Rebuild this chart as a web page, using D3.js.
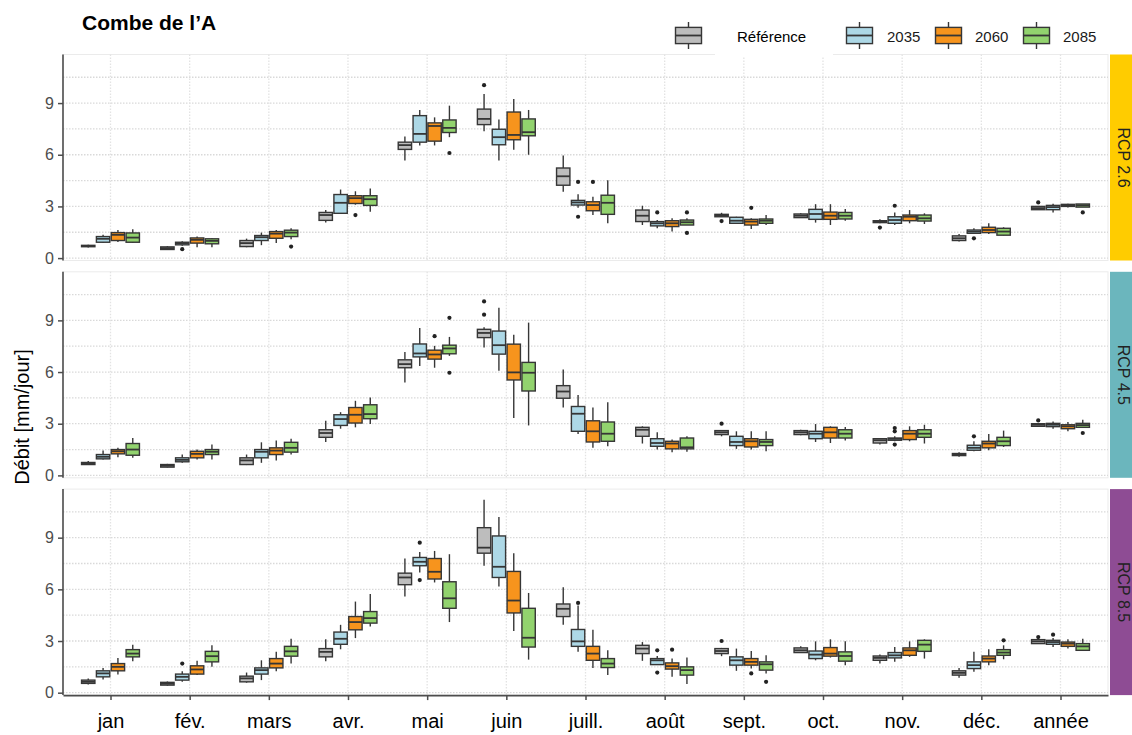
<!DOCTYPE html>
<html>
<head>
<meta charset="utf-8">
<script src="https://cdn.jsdelivr.net/npm/d3@7"></script>
<style>
  body { margin: 0; background: #fff; }
  svg { font-family: "Liberation Sans", Arial, sans-serif; }
</style>
</head>
<body>
<script>
// categories and series
var categories = ["jan", "fév.", "mars", "avr.", "mai", "juin", "juill.", "août", "sept.", "oct.", "nov.", "déc.", "année"];
var seriesNames = ["Référence", "2035", "2060", "2085"];
var seriesColors = ["#BDBDBD", "#ADD8E6", "#F7941D", "#92D36E"];
var scenarioNames = ["RCP 2.6", "RCP 4.5", "RCP 8.5"];
var stripColors = ["#FFCC00", "#6BB6BD", "#8E4C94"];
var yTicks = [0, 3, 6, 9];
var yMinor = [1.5, 4.5, 7.5, 10.5];

// boxes: [lower whisker, q1, median, q3, upper whisker] per category
var rcp26_ref = [[0.62,0.66,0.70,0.74,0.78],[0.48,0.50,0.58,0.65,0.70],[0.63,0.67,0.87,1.02,1.13],[2.06,2.19,2.50,2.65,2.79],[5.67,6.31,6.56,6.73,7.06],[7.37,7.75,8.08,8.65,9.52],[3.85,4.23,4.75,5.23,5.96],[1.92,2.12,2.46,2.79,3.04],[2.40,2.40,2.48,2.54,2.63],[2.35,2.35,2.46,2.56,2.60],[2.02,2.06,2.12,2.17,2.25],[0.96,1.02,1.15,1.29,1.40],[2.81,2.81,2.90,3.00,3.00]];
var rcp26_2035 = [[0.87,0.92,1.12,1.25,1.35],[0.71,0.77,0.87,0.92,0.98],[0.75,1.02,1.21,1.31,1.48],[2.60,2.60,3.21,3.69,3.98],[6.54,6.73,7.21,8.27,8.60],[5.67,6.58,7.02,7.48,8.04],[2.92,3.08,3.23,3.35,3.71],[1.73,1.87,2.02,2.12,2.21],[1.98,2.02,2.17,2.37,2.40],[2.06,2.25,2.56,2.83,3.13],[1.92,2.02,2.21,2.40,2.65],[1.44,1.44,1.54,1.63,1.73],[2.65,2.81,2.96,3.06,3.15]];
var rcp26_2060 = [[0.94,1.02,1.35,1.48,1.63],[0.63,0.87,1.06,1.17,1.25],[0.87,1.15,1.42,1.54,1.63],[3.10,3.17,3.48,3.62,3.88],[6.54,6.79,7.67,7.85,8.17],[6.29,6.87,7.15,8.48,9.23],[2.50,2.75,3.08,3.27,3.56],[1.54,1.83,2.02,2.17,2.31],[1.69,1.92,2.12,2.25,2.31],[1.92,2.25,2.46,2.67,3.13],[2.02,2.17,2.40,2.50,2.79],[1.40,1.48,1.63,1.79,2.02],[2.94,3.00,3.06,3.12,3.15]];
var rcp26_2085 = [[0.87,0.92,1.19,1.46,1.67],[0.63,0.83,1.00,1.12,1.17],[1.10,1.25,1.48,1.62,1.73],[2.69,3.06,3.42,3.62,4.04],[7.02,7.29,7.56,8.02,8.85],[6.00,7.10,7.31,8.08,8.60],[2.02,2.54,3.21,3.65,4.52],[1.92,1.92,2.08,2.21,2.31],[1.92,2.02,2.17,2.27,2.50],[2.17,2.27,2.46,2.65,2.85],[1.98,2.15,2.31,2.50,2.60],[1.31,1.33,1.54,1.73,1.79],[2.96,2.96,3.06,3.14,3.14]];
var rcp26_outliers = [["juin","Référence",10.04],["sept.","Référence",2.15],["nov.","Référence",1.77],["année","Référence",3.23],
  ["fév.","2035",0.52],["juill.","2035",4.42],["juill.","2035",2.40],["août","2035",2.65],["nov.","2035",3.04],["déc.","2035",1.15],
  ["avr.","2060",2.50],["juill.","2060",4.42],["sept.","2060",2.92],
  ["mars","2085",0.67],["mai","2085",6.10],["août","2085",2.65],["août","2085",1.46],["année","2085",2.65]];

var rcp45_ref = [[0.60,0.63,0.69,0.75,0.83],[0.46,0.48,0.56,0.63,0.67],[0.60,0.63,0.87,1.02,1.21],[1.94,2.21,2.46,2.65,3.17],[5.40,6.25,6.46,6.71,7.17],[7.42,8.00,8.27,8.48,8.60],[3.94,4.48,4.87,5.21,6.15],[1.85,2.27,2.65,2.79,2.85],[2.27,2.37,2.50,2.60,2.60],[2.33,2.37,2.50,2.60,2.65],[1.79,1.88,2.04,2.13,2.17],[1.08,1.15,1.21,1.27,1.35],[2.85,2.85,2.94,3.00,3.00]];
var rcp45_2035 = [[0.92,0.96,1.08,1.21,1.44],[0.73,0.79,0.90,1.02,1.21],[0.73,1.02,1.37,1.50,1.92],[2.71,2.90,3.27,3.52,3.67],[6.35,6.88,7.08,7.63,8.56],[6.08,7.04,7.56,8.38,9.73],[2.40,2.56,3.58,4.00,4.67],[1.50,1.69,1.88,2.13,2.50],[1.54,1.73,1.94,2.27,2.56],[1.94,2.13,2.42,2.56,2.98],[1.98,2.04,2.12,2.17,2.27],[1.40,1.46,1.60,1.75,1.98],[2.71,2.83,2.94,3.02,3.13]];
var rcp45_2060 = [[1.06,1.25,1.40,1.50,1.60],[0.92,1.02,1.25,1.40,1.50],[0.87,1.21,1.44,1.60,2.02],[2.79,3.04,3.52,3.94,4.33],[6.25,6.75,7.02,7.27,7.52],[3.33,5.54,5.98,7.62,8.17],[1.60,1.94,2.56,3.17,3.94],[1.35,1.54,1.85,1.98,2.08],[1.50,1.65,1.98,2.13,2.56],[1.88,2.17,2.50,2.79,2.85],[1.98,2.08,2.42,2.60,2.85],[1.46,1.60,1.85,1.98,2.40],[2.56,2.71,2.85,2.94,3.10]];
var rcp45_2085 = [[1.02,1.17,1.50,1.85,2.17],[0.92,1.21,1.37,1.50,1.79],[1.21,1.35,1.60,1.92,2.13],[2.98,3.29,3.56,4.10,4.52],[6.94,7.06,7.37,7.56,8.04],[2.90,4.90,5.96,6.56,8.87],[1.69,1.98,2.42,3.10,4.25],[1.37,1.54,1.63,2.17,2.27],[1.40,1.73,1.94,2.08,2.56],[2.02,2.17,2.42,2.65,2.81],[1.85,2.21,2.42,2.65,2.94],[1.65,1.73,1.98,2.21,2.60],[2.79,2.79,2.92,3.02,3.23]];
var rcp45_outliers = [["juin","Référence",10.10],["juin","Référence",9.33],["sept.","Référence",3.00],["année","Référence",3.19],
  ["nov.","2035",2.75],["nov.","2035",2.56],["nov.","2035",1.79],["déc.","2035",2.27],
  ["mai","2060",8.08],
  ["mai","2085",9.15],["mai","2085",5.96],["année","2085",2.46]];

var rcp85_ref = [[0.48,0.54,0.63,0.73,0.83],[0.40,0.44,0.52,0.60,0.65],[0.58,0.63,0.83,0.96,1.17],[1.83,2.08,2.37,2.56,3.10],[5.58,6.27,6.69,6.94,7.79],[7.37,8.10,8.42,9.58,11.20],[3.94,4.42,4.87,5.15,6.12],[1.85,2.27,2.56,2.75,2.94],[2.12,2.27,2.42,2.56,2.60],[2.33,2.33,2.46,2.60,2.69],[1.69,1.88,2.02,2.13,2.21],[0.87,1.02,1.15,1.27,1.44],[2.85,2.85,2.98,3.08,3.13]];
var rcp85_2035 = [[0.77,0.92,1.12,1.27,1.44],[0.63,0.73,0.92,1.08,1.25],[0.73,1.08,1.31,1.44,1.88],[2.52,2.81,3.13,3.52,3.94],[6.98,7.37,7.60,7.85,8.17],[6.17,6.69,7.31,9.10,10.20],[2.37,2.69,2.98,3.67,5.06],[1.63,1.63,1.88,1.98,2.13],[1.27,1.60,1.88,2.08,2.56],[1.88,1.98,2.21,2.42,2.98],[1.79,2.02,2.17,2.33,2.65],[1.21,1.40,1.60,1.79,2.37],[2.65,2.81,2.94,3.04,3.17]];
var rcp85_2060 = [[1.06,1.27,1.50,1.69,2.02],[1.02,1.08,1.35,1.56,1.85],[1.25,1.44,1.69,1.98,2.37],[3.17,3.65,4.10,4.42,5.29],[6.40,6.60,7.02,7.79,8.23],[3.58,4.63,5.35,7.04,8.10],[1.44,1.88,2.27,2.69,3.65],[0.92,1.37,1.54,1.73,1.98],[1.40,1.60,1.79,1.98,2.42],[2.04,2.12,2.27,2.62,3.10],[2.08,2.17,2.46,2.60,2.98],[1.60,1.79,1.98,2.13,2.52],[2.56,2.69,2.85,2.94,3.10]];
var rcp85_2085 = [[1.83,2.08,2.27,2.50,2.79],[1.50,1.79,2.12,2.40,2.75],[1.69,2.12,2.40,2.69,3.13],[3.85,4.04,4.33,4.71,5.73],[4.10,4.90,5.48,6.44,8.04],[1.92,2.65,3.19,4.90,5.79],[1.02,1.46,1.69,1.98,2.46],[0.50,1.02,1.31,1.50,2.04],[1.12,1.31,1.65,1.79,2.17],[1.60,1.83,2.13,2.37,2.98],[1.98,2.40,2.79,3.04,3.10],[1.94,2.17,2.33,2.50,2.75],[2.42,2.46,2.69,2.85,3.13]];
var rcp85_outliers = [["sept.","Référence",3.00],["année","Référence",3.23],
  ["fév.","2035",1.69],["mai","2035",8.71],["mai","2035",6.54],["juill.","2035",5.21],["août","2035",2.46],["août","2035",1.17],["année","2035",3.37],
  ["août","2060",2.50],["sept.","2060",1.12],
  ["sept.","2085",0.63],["déc.","2085",3.04]];

var panels = [
  {name: scenarioNames[0], strip: stripColors[0], boxes: [rcp26_ref, rcp26_2035, rcp26_2060, rcp26_2085], outliers: rcp26_outliers},
  {name: scenarioNames[1], strip: stripColors[1], boxes: [rcp45_ref, rcp45_2035, rcp45_2060, rcp45_2085], outliers: rcp45_outliers},
  {name: scenarioNames[2], strip: stripColors[2], boxes: [rcp85_ref, rcp85_2035, rcp85_2060, rcp85_2085], outliers: rcp85_outliers}
];

var W = 1132, H = 735;
var left = 63, right = 1108, top0 = 54.5, panelH = 206, panelGap = 11.3;
var outline = "#363636";

var svg = d3.select("body").append("svg").attr("width", W).attr("height", H);

var x = d3.scalePoint().domain(categories).range([left, right]).padding(0.6);
var step = x.step();
var dodge = d3.scaleBand().domain(seriesNames)
    .range([-0.375 * step, 0.375 * step])
    .paddingInner(0.1).paddingOuter(0.05);
var color = d3.scaleOrdinal().domain(seriesNames).range(seriesColors);

// draw a boxplot glyph
function drawBox(g, cx, bw, s, y, fill) {
  g.append("line").attr("x1", cx).attr("x2", cx).attr("y1", y(s[4])).attr("y2", y(s[3]))
    .attr("stroke", outline).attr("stroke-width", 1.4);
  g.append("line").attr("x1", cx).attr("x2", cx).attr("y1", y(s[1])).attr("y2", y(s[0]))
    .attr("stroke", outline).attr("stroke-width", 1.4);
  g.append("rect").attr("x", cx - bw / 2).attr("width", bw)
    .attr("y", y(s[3])).attr("height", Math.max(1, y(s[1]) - y(s[3])))
    .attr("fill", fill).attr("stroke", outline).attr("stroke-width", 1.4);
  g.append("line").attr("x1", cx - bw / 2).attr("x2", cx + bw / 2).attr("y1", y(s[2])).attr("y2", y(s[2]))
    .attr("stroke", outline).attr("stroke-width", 1.8);
}

panels.forEach(function(p, i) {
  var top = top0 + i * (panelH + panelGap);
  var y = d3.scaleLinear().domain([-0.14, 11.82]).range([top + panelH, top]);
  var g = svg.append("g").attr("class", "panel");

  g.append("rect").attr("x", left).attr("y", top).attr("width", right - left).attr("height", panelH)
    .attr("fill", "#fff").attr("stroke", "#EBEBEB").attr("stroke-width", 1);

  // grid
  g.selectAll(".hgrid").data(yTicks.concat(yMinor)).enter().append("line")
    .attr("x1", left).attr("x2", right)
    .attr("y1", function(d) { return y(d); }).attr("y2", function(d) { return y(d); })
    .attr("stroke", "#D9D9D9").attr("stroke-width", 1.3).attr("stroke-dasharray", "1.5,1.5");
  g.selectAll(".vgrid").data(categories).enter().append("line")
    .attr("x1", function(d) { return x(d); }).attr("x2", function(d) { return x(d); })
    .attr("y1", top).attr("y2", top + panelH)
    .attr("stroke", "#E3E3E3").attr("stroke-width", 1.3).attr("stroke-dasharray", "1.5,1.5");

  // boxes
  p.boxes.forEach(function(arr, si) {
    var sname = seriesNames[si];
    arr.forEach(function(s, ci) {
      var cx = x(categories[ci]) + dodge(sname) + dodge.bandwidth() / 2;
      drawBox(g, cx, dodge.bandwidth(), s, y, color(sname));
    });
  });

  g.selectAll(".out").data(p.outliers).enter().append("circle")
    .attr("cx", function(d) { return x(d[0]) + dodge(d[1]) + dodge.bandwidth() / 2; })
    .attr("cy", function(d) { return y(d[2]); })
    .attr("r", 2.1).attr("fill", "#222");

  // y axis
  var ax = g.append("g").attr("transform", "translate(" + left + ",0)")
    .call(d3.axisLeft(y).tickValues(yTicks).tickSize(5).tickSizeOuter(0).tickPadding(4));
  ax.select(".domain").attr("stroke", "#4D4D4D").attr("stroke-width", 1.6)
    .attr("d", "M0," + top + "V" + (top + panelH));
  ax.selectAll(".tick line").attr("stroke", "#4D4D4D").attr("stroke-width", 1.5);
  ax.selectAll(".tick text").attr("fill", "#4D4D4D").style("font-size", "16px");

  // strip
  svg.append("rect").attr("x", 1110).attr("y", top).attr("width", 30).attr("height", panelH)
    .attr("fill", p.strip);
  svg.append("text").attr("transform", "translate(1123," + (top + panelH / 2) + ") rotate(90)")
    .attr("text-anchor", "middle").attr("dominant-baseline", "central")
    .attr("fill", "#222").style("font-size", "16px").text(p.name);

  if (i === panels.length - 1) {
    var bx = g.append("g").attr("transform", "translate(0," + (top + panelH) + ")")
      .call(d3.axisBottom(x).tickSize(5).tickSizeOuter(0).tickPadding(14));
    bx.select(".domain").attr("stroke", "#4D4D4D").attr("stroke-width", 1.6);
    bx.selectAll(".tick line").attr("stroke", "#4D4D4D").attr("stroke-width", 1.5);
    bx.selectAll(".tick text").attr("fill", "#000").style("font-size", "20px");
  }
});

// y title
svg.append("text").attr("transform", "translate(22,417) rotate(-90)")
  .attr("text-anchor", "middle").attr("dominant-baseline", "central")
  .style("font-size", "20px").attr("fill", "#000").text("Débit [mm/jour]");

// title
svg.append("text").attr("x", 82).attr("y", 30)
  .style("font-size", "21px").style("font-weight", "bold").attr("fill", "#000")
  .text("Combe de l’A");

// legend
var legendX = [675, 846, 935, 1023];
var labelX = [737, 887, 975, 1063];
svg.append("rect").attr("x", 715).attr("y", 14).attr("width", 118).attr("height", 42).attr("fill", "#fff");
var ky = d3.scaleLinear().domain([0, 1]).range([49, 22]);
seriesNames.forEach(function(s, i) {
  var lg = svg.append("g");
  drawBox(lg, legendX[i] + 13.5, 26, [0, 0.2, 0.5, 0.8, 1], ky, color(s));
  lg.append("text").attr("x", labelX[i]).attr("y", 41.5)
    .style("font-size", "15px").attr("fill", i === 0 ? "#000" : "#1A1A1A").text(s);
});
</script>
</body>
</html>
